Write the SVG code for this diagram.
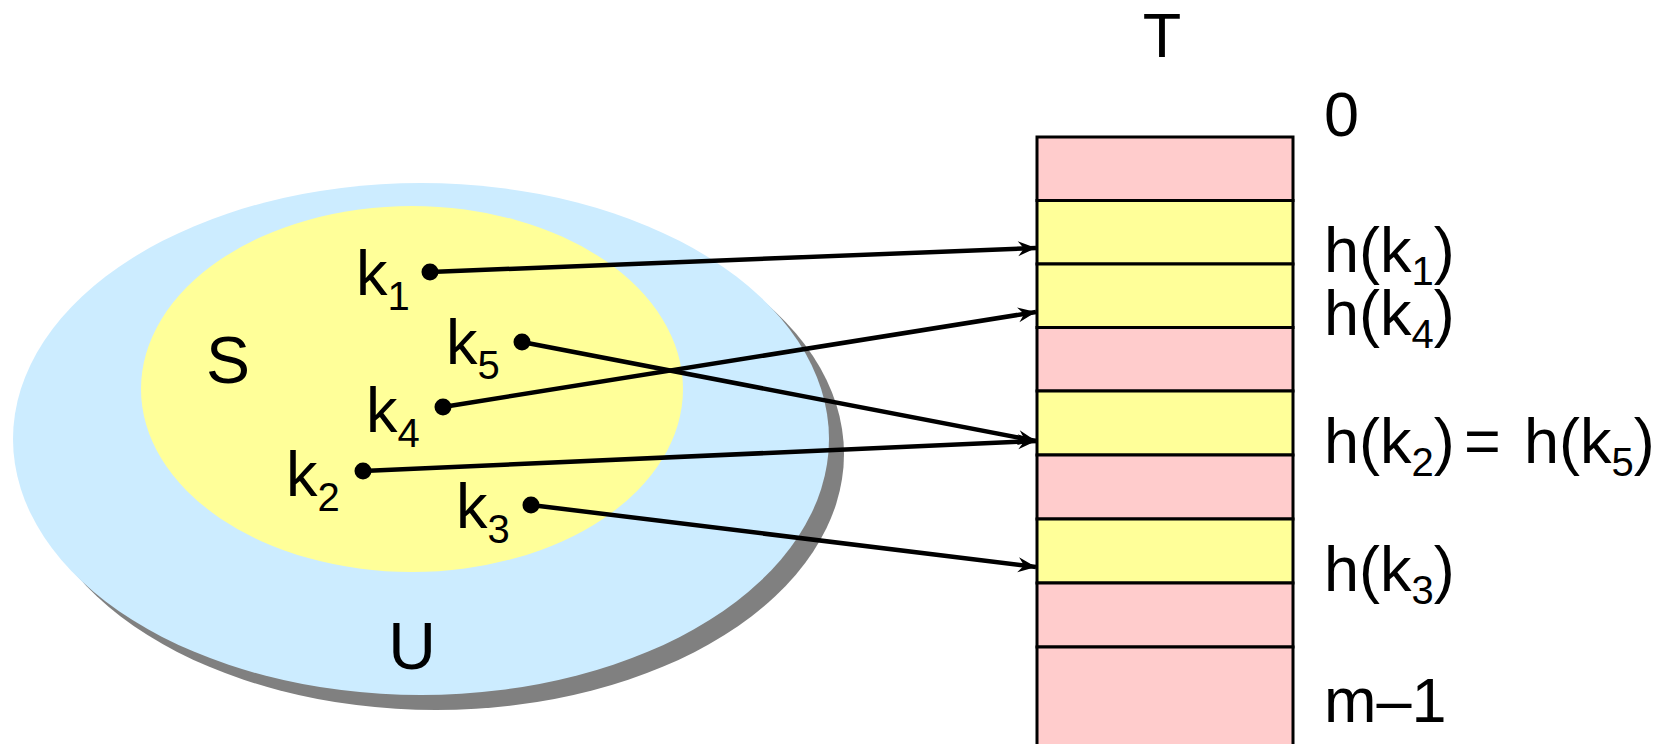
<svg xmlns="http://www.w3.org/2000/svg" width="1670" height="744" viewBox="0 0 1670 744">
<style>
text{font-family:"Liberation Sans",Arial,sans-serif;font-size:63px;fill:#000}
.sub{font-size:40px}
.big{font-size:66px}
.pink{fill:#FFCCCC;stroke:#000;stroke-width:3}
.yel{fill:#FFFF99;stroke:#000;stroke-width:3}
.conn{stroke:#000;stroke-width:4.5;fill:none;marker-end:url(#ah)}
.dot{fill:#000}
</style>
<defs>
<marker id="ah" markerUnits="userSpaceOnUse" markerWidth="22" markerHeight="18" viewBox="-20 -9 22 18" refX="0" refY="0" orient="auto">
<path d="M0,0 L-18,-7.5 L-12,0 L-18,7.5 Z" fill="#000"/>
</marker>
</defs>
<rect width="1670" height="744" fill="#fff"/>
<g id="U">
<ellipse cx="436" cy="454" rx="408" ry="256" fill="#808080"/>
<ellipse cx="421" cy="439" rx="408" ry="256" fill="#CCECFF"/>
<text class="big" x="412" y="669" text-anchor="middle">U</text>
</g>
<g id="S">
<ellipse cx="412" cy="389" rx="271" ry="183" fill="#FFFF99"/>
<text class="big" x="206" y="383">S</text>
</g>
<g id="T">
<text x="1162" y="57" text-anchor="middle">T</text>
<rect class="pink" x="1037" y="137" width="256" height="63.5"/>
<rect class="yel" x="1037" y="200.5" width="256" height="63.5"/>
<rect class="yel" x="1037" y="264" width="256" height="63.5"/>
<rect class="pink" x="1037" y="327.5" width="256" height="63.5"/>
<rect class="yel" x="1037" y="391" width="256" height="64"/>
<rect class="pink" x="1037" y="455" width="256" height="64"/>
<rect class="yel" x="1037" y="519" width="256" height="64"/>
<rect class="pink" x="1037" y="583" width="256" height="64"/>
<rect class="pink" x="1037" y="647" width="256" height="120"/>
<text x="1324" y="136">0</text>
<text x="1324" y="272">h(k<tspan class="sub" dy="13">1</tspan><tspan dy="-13">)</tspan></text>
<text x="1324" y="335">h(k<tspan class="sub" dy="13">4</tspan><tspan dy="-13">)</tspan></text>
<text x="1324" y="463">h(k<tspan class="sub" dy="13">2</tspan><tspan dy="-13">)</tspan></text>
<text x="1464" y="463">=</text>
<text x="1524" y="463">h(k<tspan class="sub" dy="13">5</tspan><tspan dy="-13">)</tspan></text>
<text x="1324" y="591">h(k<tspan class="sub" dy="13">3</tspan><tspan dy="-13">)</tspan></text>
<text x="1324" y="722">m–1</text>
</g>
<g id="k1"><text x="356" y="295">k<tspan class="sub" dy="15">1</tspan></text><circle class="dot" cx="430" cy="272" r="8.5"/></g>
<g id="k5"><text x="446" y="364">k<tspan class="sub" dy="15">5</tspan></text><circle class="dot" cx="522" cy="342" r="8.5"/></g>
<g id="k4"><text x="366" y="432">k<tspan class="sub" dy="15">4</tspan></text><circle class="dot" cx="443" cy="407" r="8.5"/></g>
<g id="k2"><text x="286" y="496">k<tspan class="sub" dy="15">2</tspan></text><circle class="dot" cx="363" cy="471" r="8.5"/></g>
<g id="k3"><text x="456" y="528">k<tspan class="sub" dy="15">3</tspan></text><circle class="dot" cx="531" cy="505" r="8.5"/></g>
<g id="connectors">
<line class="conn" x1="430" y1="272" x2="1036" y2="248"/>
<line class="conn" x1="443" y1="407" x2="1036" y2="312"/>
<line class="conn" x1="522" y1="342" x2="1036" y2="441"/>
<line class="conn" x1="363" y1="471" x2="1036" y2="441"/>
<line class="conn" x1="531" y1="505" x2="1036" y2="567"/>
</g>
</svg>
